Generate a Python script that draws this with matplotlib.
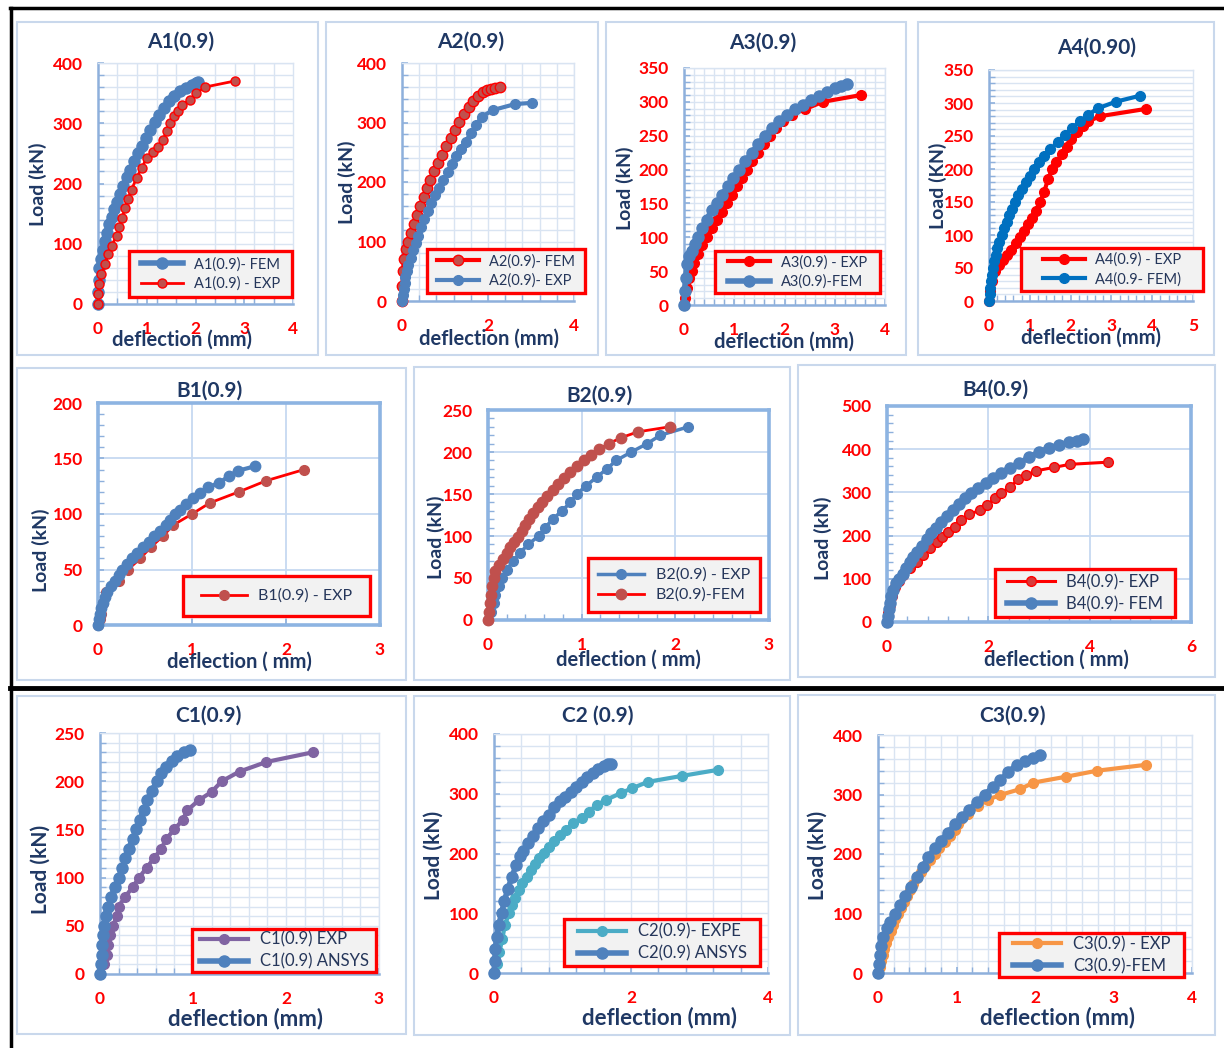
import numpy as np
import matplotlib
matplotlib.use('Agg')
import matplotlib.pyplot as plt
from matplotlib.patches import Rectangle
from matplotlib.lines import Line2D
from matplotlib.ticker import MultipleLocator

plt.rcParams['font.family'] = ['Lato', 'DejaVu Sans']

# ---------------- data ----------------
a1_fem_x = [0, 0.01, 0.02, 0.03, 0.06, 0.10, 0.14, 0.18, 0.23, 0.28, 0.33, 0.39, 0.45, 0.52, 0.59, 0.66,
            0.74, 0.82, 0.90, 0.98, 1.07, 1.16, 1.25, 1.35, 1.45, 1.56, 1.68, 1.80, 1.92, 2.00, 2.06]
a1_fem_y = [0, 20, 40, 60, 75, 90, 105, 118, 132, 145, 157, 170, 183, 196, 210, 223,
            237, 250, 263, 276, 289, 302, 314, 326, 337, 346, 353, 359, 364, 367, 368]
a1_exp_x = [0, 0.01, 0.03, 0.07, 0.14, 0.21, 0.28, 0.38, 0.44, 0.50, 0.55, 0.62, 0.69, 0.79, 0.90, 1.00,
            1.13, 1.24, 1.34, 1.41, 1.48, 1.55, 1.65, 1.72, 1.89, 2.02, 2.19, 2.80]
a1_exp_y = [0, 16, 33, 49, 66, 83, 97, 113, 127, 143, 160, 175, 190, 209, 226, 243,
            252, 260, 273, 287, 301, 312, 320, 331, 339, 350, 360, 370]

a2_fem_x = [0, 0.01, 0.02, 0.05, 0.09, 0.14, 0.20, 0.27, 0.34, 0.42, 0.50, 0.58, 0.66, 0.75, 0.84,
            0.93, 1.03, 1.13, 1.23, 1.33, 1.44, 1.55, 1.66, 1.77, 1.88, 1.97, 2.06, 2.16, 2.28]
a2_fem_y = [0, 25, 50, 70, 88, 100, 115, 130, 145, 160, 175, 190, 204, 218, 232,
            246, 260, 274, 288, 301, 314, 326, 336, 345, 352, 355, 357, 358, 360]
a2_exp_x = [0, 0.02, 0.04, 0.06, 0.08, 0.11, 0.15, 0.20, 0.26, 0.32, 0.38, 0.45, 0.52, 0.60, 0.68,
            0.77, 0.86, 0.96, 1.06, 1.16, 1.26, 1.37, 1.48, 1.60, 1.72, 1.86, 2.12, 2.63, 3.02]
a2_exp_y = [0, 10, 20, 30, 40, 50, 60, 72, 85, 98, 110, 124, 137, 151, 165,
            178, 190, 203, 216, 230, 243, 256, 268, 282, 296, 310, 321, 331, 333]

a3_exp_x = [0, 0.02, 0.05, 0.10, 0.15, 0.20, 0.27, 0.35, 0.45, 0.55, 0.65, 0.75, 0.85, 0.95, 1.05,
            1.15, 1.25, 1.36, 1.47, 1.59, 1.71, 1.84, 1.98, 2.14, 2.40, 2.76, 3.52]
a3_exp_y = [0, 10, 25, 40, 50, 62, 75, 88, 100, 113, 125, 138, 150, 162, 175,
            188, 200, 212, 225, 238, 250, 262, 272, 281, 289, 300, 310]
a3_fem_x = [0, 0.01, 0.03, 0.06, 0.10, 0.15, 0.21, 0.28, 0.36, 0.45, 0.55, 0.65, 0.76, 0.87, 0.98, 1.10,
            1.22, 1.35, 1.48, 1.61, 1.75, 1.90, 2.05, 2.20, 2.36, 2.52, 2.68, 2.84, 3.00, 3.12, 3.24]
a3_fem_y = [0, 20, 40, 60, 72, 80, 90, 100, 113, 126, 140, 150, 163, 176, 188, 200,
            212, 225, 238, 250, 261, 272, 281, 289, 296, 303, 309, 315, 320, 323, 326]

a4_exp_x = [0, 0.03, 0.08, 0.15, 0.25, 0.35, 0.45, 0.55, 0.65, 0.75, 0.85, 0.95, 1.05, 1.15, 1.25,
            1.35, 1.45, 1.55, 1.65, 1.78, 1.90, 2.02, 2.15, 2.30, 2.43, 2.72, 3.84]
a4_exp_y = [0, 15, 30, 45, 55, 62, 70, 78, 88, 97, 106, 116, 126, 137, 150,
            165, 185, 200, 210, 222, 234, 246, 256, 265, 272, 280, 291]
a4_fem_x = [0, 0.02, 0.03, 0.05, 0.07, 0.09, 0.12, 0.16, 0.20, 0.25, 0.31, 0.37, 0.43, 0.50, 0.57, 0.64,
            0.72, 0.80, 0.90, 1.00, 1.10, 1.22, 1.35, 1.50, 1.70, 1.86, 2.03, 2.23, 2.43, 2.67, 3.11, 3.70]
a4_fem_y = [0, 10, 20, 30, 40, 50, 60, 70, 80, 90, 100, 110, 120, 130, 140, 150,
            160, 170, 180, 190, 200, 210, 220, 230, 241, 251, 262, 272, 282, 292, 302, 311]

b1_exp_x = [0, 0.02, 0.03, 0.05, 0.09, 0.22, 0.32, 0.45, 0.56, 0.69, 0.80, 1.00, 1.19, 1.50, 1.79, 2.19]
b1_exp_y = [0, 5, 10, 20, 30, 40, 50, 60, 70, 80, 90, 100, 110, 120, 130, 140]
b1_fem_x = [0, 0.01, 0.02, 0.03, 0.05, 0.07, 0.10, 0.14, 0.18, 0.22, 0.26, 0.31, 0.36, 0.42, 0.48,
            0.54, 0.60, 0.66, 0.72, 0.77, 0.82, 0.87, 0.94, 1.01, 1.09, 1.17, 1.29, 1.39, 1.49, 1.67]
b1_fem_y = [0, 5, 10, 15, 20, 25, 30, 35, 40, 45, 50, 55, 60, 65, 70,
            75, 80, 85, 90, 95, 100, 104, 109, 114, 119, 124, 128, 134, 139, 143]

b2_exp_x = [0, 0.03, 0.06, 0.08, 0.12, 0.15, 0.20, 0.27, 0.34, 0.43, 0.54, 0.61, 0.69, 0.79, 0.88,
            0.95, 1.05, 1.16, 1.27, 1.37, 1.53, 1.70, 1.84, 2.14]
b2_exp_y = [0, 10, 20, 30, 40, 50, 60, 70, 80, 90, 100, 110, 120, 130, 140,
            150, 160, 170, 180, 190, 200, 210, 220, 230]
b2_fem_x = [0, 0.01, 0.02, 0.03, 0.04, 0.06, 0.08, 0.12, 0.16, 0.20, 0.24, 0.28, 0.32, 0.36, 0.40, 0.44,
            0.48, 0.53, 0.58, 0.63, 0.69, 0.75, 0.81, 0.88, 0.95, 1.02, 1.10, 1.18, 1.29, 1.42, 1.60, 1.94]
b2_fem_y = [0, 10, 20, 30, 40, 50, 58, 66, 73, 80, 87, 93, 99, 106, 113, 120,
            127, 134, 141, 148, 155, 162, 169, 176, 183, 190, 197, 203, 210, 217, 224, 230]

b4_exp_x = [0, 0.02, 0.05, 0.10, 0.16, 0.24, 0.32, 0.45, 0.59, 0.72, 0.85, 0.98, 1.08, 1.21,
            1.34, 1.47, 1.62, 1.84, 1.97, 2.13, 2.25, 2.43, 2.58, 2.74, 2.95, 3.30, 3.61, 4.37]
b4_exp_y = [0, 20, 40, 60, 80, 95, 109, 124, 140, 155, 171, 186, 197, 209,
            221, 236, 249, 259, 271, 286, 299, 312, 330, 340, 350, 358, 365, 370]
b4_fem_x = [0, 0.01, 0.03, 0.05, 0.08, 0.12, 0.18, 0.24, 0.31, 0.38, 0.45, 0.52, 0.60, 0.69, 0.78, 0.87, 0.97, 1.07,
            1.18, 1.30, 1.42, 1.54, 1.66, 1.80, 1.95, 2.10, 2.25, 2.42, 2.60, 2.80, 3.00, 3.20, 3.40, 3.60, 3.75, 3.87]
b4_fem_y = [0, 15, 30, 45, 60, 75, 90, 100, 112, 125, 138, 150, 163, 177, 192, 205, 218, 231,
            245, 259, 273, 287, 298, 310, 322, 334, 346, 356, 367, 381, 393, 403, 410, 416, 420, 423]

c1_exp_x = [0, 0.04, 0.07, 0.09, 0.11, 0.14, 0.18, 0.20, 0.27, 0.35, 0.42, 0.50, 0.58, 0.66, 0.71,
            0.80, 0.89, 0.94, 1.06, 1.20, 1.31, 1.50, 1.79, 2.29]
c1_exp_y = [0, 10, 20, 30, 40, 50, 60, 70, 80, 90, 100, 110, 120, 130, 140,
            150, 160, 170, 180, 189, 200, 210, 220, 230]
c1_ans_x = [0, 0.01, 0.02, 0.02, 0.03, 0.04, 0.06, 0.09, 0.12, 0.16, 0.20, 0.24, 0.27, 0.31, 0.35,
            0.39, 0.43, 0.47, 0.51, 0.56, 0.61, 0.66, 0.71, 0.77, 0.83, 0.90, 0.97]
c1_ans_y = [0, 10, 20, 30, 40, 50, 60, 70, 80, 90, 100, 110, 120, 130, 140,
            150, 160, 170, 180, 190, 200, 208, 215, 221, 226, 230, 232]

c2_exp_x = [0, 0.05, 0.08, 0.12, 0.16, 0.22, 0.26, 0.31, 0.36, 0.41, 0.48, 0.54, 0.60, 0.66, 0.73,
            0.80, 0.88, 0.96, 1.05, 1.16, 1.28, 1.39, 1.50, 1.64, 1.85, 2.01, 2.25, 2.75, 3.27]
c2_exp_y = [0, 15, 35, 57, 80, 100, 114, 125, 139, 150, 161, 172, 182, 192, 201,
            211, 221, 231, 240, 251, 260, 270, 281, 290, 301, 309, 320, 330, 340]
c2_ans_x = [0, 0.01, 0.02, 0.04, 0.07, 0.11, 0.15, 0.20, 0.26, 0.32, 0.38, 0.43, 0.50, 0.57, 0.64,
            0.72, 0.80, 0.88, 0.96, 1.04, 1.12, 1.20, 1.28, 1.36, 1.44, 1.52, 1.60, 1.66, 1.71]
c2_ans_y = [0, 20, 40, 60, 80, 100, 120, 140, 160, 180, 195, 205, 218, 230, 242,
            254, 265, 278, 288, 295, 303, 312, 320, 328, 335, 341, 346, 349, 350]

c3_exp_x = [0, 0.02, 0.04, 0.06, 0.08, 0.10, 0.13, 0.16, 0.19, 0.22, 0.25, 0.29, 0.33, 0.37, 0.41, 0.45, 0.50,
            0.55, 0.60, 0.66, 0.72, 0.78, 0.85, 0.92, 0.98, 1.02, 1.06, 1.15, 1.27, 1.40, 1.55, 1.81, 1.98,
            2.40, 2.79, 3.42]
c3_exp_y = [0, 10, 20, 30, 40, 50, 60, 70, 80, 90, 100, 110, 120, 130, 140, 150, 160,
            170, 180, 190, 200, 210, 220, 230, 240, 250, 259, 268, 280, 291, 299, 309, 320,
            330, 340, 350]
c3_fem_x = [0, 0.01, 0.02, 0.04, 0.07, 0.11, 0.15, 0.22, 0.28, 0.35, 0.42, 0.50, 0.57, 0.64, 0.72,
            0.80, 0.89, 0.98, 1.07, 1.16, 1.26, 1.36, 1.46, 1.56, 1.66, 1.77, 1.87, 1.97, 2.06]
c3_fem_y = [0, 15, 30, 45, 60, 75, 85, 100, 115, 130, 145, 162, 178, 195, 210,
            222, 236, 250, 262, 274, 287, 300, 312, 324, 338, 350, 357, 362, 366]

# ---------------- styling ----------------
W, H = 1224, 1048
NAVY = '#1f3864'
RED = '#ff0000'
DRED = '#c0504d'
BLUE = '#4f81bd'
AXIS = '#8eb0dc'
GRID = '#d9e4f2'
FRAME = '#8db4e2'
LEGTXT = '#25365a'

fig = plt.figure(figsize=(W / 100, H / 100), dpi=100)


def panel(x0, y0, x1, y1):
    fig.add_artist(Rectangle((x0 / W, 1 - y1 / H), (x1 - x0) / W, (y1 - y0) / H,
                             transform=fig.transFigure, facecolor='white',
                             edgecolor='#c9d8ec', lw=1.5, zorder=-1))


def text(x, y, s, size, rot=0):
    fig.text(x / W, 1 - y / H, s, ha='center', va='center', rotation=rot,
             fontsize=size, fontweight='bold', color=NAVY)


def make_axes(box, xmax, xmaj, ymax, ymaj, xstep, ystep, xgrid=True, boxed=False):
    x0, x1, yt, yb = box
    ax = fig.add_axes([x0 / W, 1 - yb / H, (x1 - x0) / W, (yb - yt) / H])
    ax.set_facecolor('none')
    ax.set_xlim(0, xmax)
    ax.set_ylim(0, ymax)
    xt = np.arange(0, xmax + 1e-9, xmaj)
    yt_ = np.arange(0, ymax + 1e-9, ymaj)
    ax.set_xticks(xt, labels=[f'{v:g}' for v in xt], fontsize=12.5, fontweight='bold', color=RED)
    ax.set_yticks(yt_, labels=[f'{v:g}' for v in yt_], fontsize=12.5, fontweight='bold', color=RED)
    if xstep:
        ax.xaxis.set_minor_locator(MultipleLocator(xstep))
    if ystep:
        ax.yaxis.set_minor_locator(MultipleLocator(ystep))
    ax.tick_params(which='both', direction='in', color=AXIS)
    ax.tick_params(axis='x', pad=12)
    ax.tick_params(axis='y', pad=11)
    ax.tick_params(which='major', length=4, width=1.2)
    ax.tick_params(which='minor', length=4, width=1)
    ax.set_axisbelow(True)
    if boxed:
        ax.grid(True, which='major', color='#c6d9f1', lw=1.3)
        for s in ax.spines.values():
            s.set_color(FRAME)
            s.set_linewidth(2.6)
    else:
        if xgrid:
            ax.xaxis.grid(True, which='minor', color=GRID, lw=1)
            if abs(round(xmaj / xstep) - xmaj / xstep) < 1e-6:
                ax.xaxis.grid(True, which='major', color=GRID, lw=1)
        ax.yaxis.grid(True, which='minor', color=GRID, lw=1)
        if abs(round(ymaj / ystep) - ymaj / ystep) < 1e-6:
            ax.yaxis.grid(True, which='major', color=GRID, lw=1)
        for side in ['left', 'bottom']:
            ax.spines[side].set_color(AXIS)
            ax.spines[side].set_linewidth(1.8)
        for side in ['top', 'right']:
            ax.spines[side].set_color(GRID)
            ax.spines[side].set_linewidth(1)
    return ax


def legend_box(ax, box, fs):
    x0, y0, x1, y1 = box
    ax.add_patch(Rectangle((x0 / W, 1 - y1 / H), (x1 - x0) / W, (y1 - y0) / H,
                           transform=fig.transFigure, facecolor='#f2f2f2', edgecolor=RED,
                           lw=2.4, zorder=8, clip_on=False))
    leg = ax.legend(loc='center', bbox_to_anchor=((x0 + x1) / 2 / W, 1 - (y0 + y1) / 2 / H),
                    bbox_transform=fig.transFigure, frameon=False, fontsize=fs,
                    handlelength=2.9, handletextpad=0.7, labelspacing=0.35,
                    borderpad=0, borderaxespad=0, labelcolor=LEGTXT)
    leg.set_zorder(9)


def series(ax, x, y, color, label, mfc=None, mec=None, lw=2.5, ms=6.5):
    ax.plot(x, y, '-o', color=color, lw=lw, ms=ms, mfc=mfc or color, mec=mec or color,
            label=label, clip_on=False, zorder=3)


# panel backgrounds
for b in [(17, 22, 318, 355), (326, 22, 598, 355), (606, 22, 906, 355), (918, 22, 1214, 355),
          (17, 368, 406, 680), (414, 367, 790, 680), (798, 365, 1215, 677),
          (17, 696, 406, 1034), (414, 696, 790, 1035), (798, 695, 1215, 1035)]:
    panel(*b)

# black separators
for xs, ys, lw in [([10, 1224], [8, 8], 2.5), ([11, 11], [8, 1048], 2.5), ([10, 1224], [688, 688], 3.5)]:
    fig.add_artist(Line2D([x / W for x in xs], [1 - y / H for y in ys], color='black', lw=lw,
                          transform=fig.transFigure))

# ---- A1
ax = make_axes((98, 293, 63, 304), 4, 1, 400, 100, 0.4, 20)
series(ax, a1_fem_x, a1_fem_y, BLUE, 'A1(0.9)- FEM', lw=4, ms=8)
series(ax, a1_exp_x, a1_exp_y, RED, 'A1(0.9) - EXP', mfc=DRED, lw=2, ms=6.5)
legend_box(ax, (129, 251, 292, 297), 10.5)
text(181, 42, 'A1(0.9)', 15)
text(182, 340, 'deflection (mm)', 14.5)
text(38, 184, 'Load (kN)', 14, 90)

# ---- A2
ax = make_axes((402, 574, 63, 301), 4, 2, 400, 100, 0.4, 20)
series(ax, a2_fem_x, a2_fem_y, RED, 'A2(0.9)- FEM', mfc=DRED, lw=3, ms=7.5)
series(ax, a2_exp_x, a2_exp_y, BLUE, 'A2(0.9)- EXP', lw=3, ms=7)
legend_box(ax, (427, 249, 585, 293), 10.5)
text(471, 42, 'A2(0.9)', 15)
text(489, 339, 'deflection (mm)', 14.5)
text(347, 182, 'Load (kN)', 14, 90)

# ---- A3
ax = make_axes((684, 885, 68, 305), 4, 1, 350, 50, 0.2, 10)
series(ax, a3_exp_x, a3_exp_y, RED, 'A3(0.9) - EXP', lw=3, ms=7)
series(ax, a3_fem_x, a3_fem_y, BLUE, 'A3(0.9)-FEM', lw=4, ms=8)
legend_box(ax, (715, 251, 880, 293), 10.5)
text(763, 43, 'A3(0.9)', 15)
text(784, 342, 'deflection (mm)', 14.5)
text(625, 188, 'Load (kN)', 14, 90)

# ---- A4
ax = make_axes((989, 1193, 70, 301), 5, 1, 350, 50, 0.2, 10, xgrid=False)
series(ax, a4_exp_x, a4_exp_y, RED, 'A4(0.9) - EXP', lw=3, ms=7)
series(ax, a4_fem_x, a4_fem_y, '#0070c0', 'A4(0.9- FEM)', lw=3, ms=7)
legend_box(ax, (1021, 248, 1203, 291), 10.5)
text(1097, 48, 'A4(0.90)', 15)
text(1091, 338, 'deflection (mm)', 14.5)
text(938, 186, 'Load (KN)', 14, 90)

# ---- B1
ax = make_axes((98, 380, 403, 625), 3, 1, 200, 50, None, 10, boxed=True)
series(ax, b1_exp_x, b1_exp_y, RED, 'B1(0.9) - EXP', mfc=DRED, mec=DRED, lw=2, ms=7)
series(ax, b1_fem_x, b1_fem_y, BLUE, '_nolegend_', lw=3, ms=7.5)
legend_box(ax, (183, 576, 370, 616), 11.5)
text(209, 391, 'B1(0.9)', 15)
text(239, 662, 'deflection ( mm)', 14.5)
text(41, 550, 'Load (kN)', 14, 90)

# ---- B2
ax = make_axes((488, 769, 410, 620), 3, 1, 250, 50, 0.2, 10, boxed=True)
series(ax, b2_exp_x, b2_exp_y, BLUE, 'B2(0.9) - EXP', lw=2.5, ms=7)
series(ax, b2_fem_x, b2_fem_y, RED, 'B2(0.9)-FEM', mfc=DRED, mec=DRED, lw=2, ms=7.5)
legend_box(ax, (588, 558, 760, 612), 11.5)
text(599, 396, 'B2(0.9)', 15)
text(628, 660, 'deflection ( mm)', 14.5)
text(436, 537, 'Load (kN)', 14, 90)

# ---- B4
ax = make_axes((887, 1191, 406, 622), 6, 2, 500, 100, 0.4, 20, boxed=True)
series(ax, b4_exp_x, b4_exp_y, RED, 'B4(0.9)- EXP', mfc='#d83a3a', lw=2.2, ms=7)
series(ax, b4_fem_x, b4_fem_y, BLUE, 'B4(0.9)- FEM', lw=4, ms=8)
legend_box(ax, (995, 569, 1175, 617), 12)
text(995, 390, 'B4(0.9)', 15)
text(1056, 660, 'deflection ( mm)', 14.5)
text(823, 538, 'Load (kN)', 14, 90)

# ---- C1
ax = make_axes((100, 379, 733, 974), 3, 1, 250, 50, 0.2, 10)
series(ax, c1_exp_x, c1_exp_y, '#8064a2', 'C1(0.9) EXP', lw=3, ms=7)
series(ax, c1_ans_x, c1_ans_y, BLUE, 'C1(0.9) ANSYS', lw=4, ms=8)
legend_box(ax, (192, 929, 376, 972), 12)
text(208, 716, 'C1(0.9)', 15)
text(245, 1019, 'deflection (mm)', 16)
text(41, 869, 'Load (kN)', 15, 90)

# ---- C2
ax = make_axes((494, 768, 734, 973), 4, 2, 400, 100, 0.4, 20)
series(ax, c2_exp_x, c2_exp_y, '#4bacc6', 'C2(0.9)- EXPE', lw=3, ms=7)
series(ax, c2_ans_x, c2_ans_y, BLUE, 'C2(0.9) ANSYS', lw=4, ms=8)
legend_box(ax, (564, 919, 760, 966), 12)
text(598, 716, 'C2 (0.9)', 15)
text(659, 1018, 'deflection (mm)', 16)
text(434, 855, 'Load (kN)', 15, 90)

# ---- C3
ax = make_axes((878, 1192, 735, 973), 4, 1, 400, 100, 0.2, 20)
series(ax, c3_exp_x, c3_exp_y, '#f79646', 'C3(0.9) - EXP', lw=3, ms=7)
series(ax, c3_fem_x, c3_fem_y, BLUE, 'C3(0.9)-FEM', lw=4, ms=8)
legend_box(ax, (999, 933, 1184, 977), 12)
text(1013, 716, 'C3(0.9)', 15)
text(1058, 1018, 'deflection (mm)', 16)
text(818, 855, 'Load (kN)', 15, 90)

fig.savefig('out.png', dpi=100)
